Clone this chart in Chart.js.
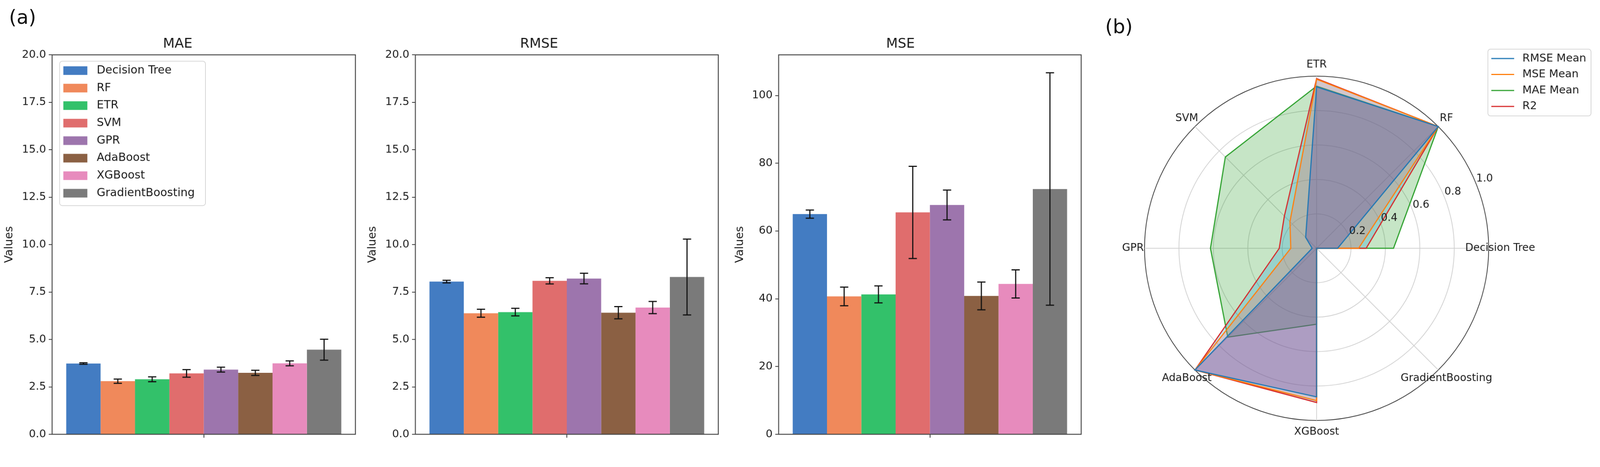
<!DOCTYPE html>
<html>
<head>
<meta charset="utf-8">
<script src="https://cdn.jsdelivr.net/npm/chart.js@4.4.1/dist/chart.umd.min.js"></script>
<style>
  html, body { margin: 0; padding: 0; background: #fff; overflow: hidden; }
  #page { position: absolute; left: 0; top: 0; width: 4268px; height: 1195px; transform-origin: 0 0; font-family: 'DejaVu Sans', sans-serif; }
  .panel { position: absolute; top: 0; height: 1195px; }
  .tag { position: absolute; font-size: 52px; line-height: 1; color: #111; }
</style>
</head>
<body>
<div id="page">
<div class="tag" style="left:24px;top:20px">(a)</div>
<div class="tag" style="left:2948px;top:45px">(b)</div>
<div class="panel" style="left:0;width:960px"><canvas id="maeChart"></canvas></div>
<div class="panel" style="left:960px;width:960px"><canvas id="rmseChart"></canvas></div>
<div class="panel" style="left:1920px;width:980px"><canvas id="mseChart"></canvas></div>
<div class="panel" style="left:2900px;width:1368px"><canvas id="radarChart"></canvas></div>
</div>
<script>
// models and bar colours
const models = ['Decision Tree', 'RF', 'ETR', 'SVM', 'GPR', 'AdaBoost', 'XGBoost', 'GradientBoosting'];
const modelColors = ['#437cc2', '#f0895b', '#33c16a', '#e06d6d', '#9d75ad', '#8b6043', '#e78bbd', '#7a7a7a'];

// panel (a): means and std errors
const maeMean = [3.73, 2.80, 2.90, 3.21, 3.41, 3.24, 3.74, 4.46];
const maeErr = [0.04, 0.11, 0.13, 0.20, 0.13, 0.135, 0.13, 0.55];
const rmseMean = [8.05, 6.38, 6.44, 8.09, 8.21, 6.41, 6.68, 8.29];
const rmseErr = [0.07, 0.21, 0.20, 0.165, 0.28, 0.32, 0.32, 2.0];
const mseMean = [65.0, 40.7, 41.3, 65.5, 67.7, 40.85, 44.4, 72.4];
const mseErr = [1.2, 2.75, 2.5, 13.6, 4.4, 4.1, 4.15, 34.3];

// panel (b): normalised scores, axes listed clockwise from the right
const radarAxes = ['Decision Tree', 'GradientBoosting', 'XGBoost', 'AdaBoost', 'GPR', 'SVM', 'ETR', 'RF'];
const radarRmse = [0.122, 0, 0.863, 1.0, 0.026, 0.09, 0.938, 1.0];
const radarMse = [0.244, 0, 0.885, 1.0, 0.15, 0.219, 0.982, 1.0];
const radarMae = [0.447, 0, 0.441, 0.73, 0.617, 0.75, 0.942, 1.0];
const radarR2 = [0.288, 0, 0.896, 1.0, 0.217, 0.265, 0.986, 1.0];
const radarTicks = [0.2, 0.4, 0.6, 0.8, 1.0];

const FONT = 'DejaVu Sans';
const TXT = '#1a1a1a';

// the layout is built for a 4268 px wide window; shrink it if the viewport is smaller
const fit = Math.min(window.innerWidth / 4268, window.innerHeight / 1195);
if (Math.abs(fit - 1) > 0.002) {
  document.getElementById('page').style.transform = 'scale(' + fit + ')';
}

const errorBars = {
  id: 'errorBars',
  afterDatasetsDraw(chart, args, opts) {
    const ctx = chart.ctx;
    const y = chart.scales.y;
    ctx.save();
    ctx.strokeStyle = '#111';
    ctx.lineWidth = 3;
    chart.data.datasets.forEach((ds, i) => {
      const bar = chart.getDatasetMeta(i).data[0];
      const m = ds.data[0], e = opts.errors[i];
      const top = y.getPixelForValue(m + e), bot = y.getPixelForValue(m - e);
      ctx.beginPath();
      ctx.moveTo(bar.x, top); ctx.lineTo(bar.x, bot);
      ctx.moveTo(bar.x - 11, top); ctx.lineTo(bar.x + 11, top);
      ctx.moveTo(bar.x - 11, bot); ctx.lineTo(bar.x + 11, bot);
      ctx.stroke();
    });
    ctx.restore();
  }
};

const frame = {
  id: 'frame',
  afterDraw(chart) {
    const {ctx, chartArea: a} = chart;
    ctx.save();
    ctx.strokeStyle = '#444';
    ctx.lineWidth = 2.5;
    ctx.strokeRect(a.left, a.top, a.right - a.left, a.bottom - a.top);
    ctx.restore();
  }
};

function roundBox(ctx, x, y, w, h) {
  ctx.beginPath();
  if (ctx.roundRect) ctx.roundRect(x, y, w, h, 7); else ctx.rect(x, y, w, h);
  ctx.fillStyle = 'rgba(255,255,255,0.8)';
  ctx.fill();
  ctx.strokeStyle = '#d6d6d6';
  ctx.lineWidth = 2;
  ctx.stroke();
}

// matplotlib style legend with colour patches
const boxLegend = {
  id: 'boxLegend',
  afterDraw(chart, args, opts) {
    if (!opts.show) return;
    const {ctx, chartArea: a} = chart;
    const x0 = a.left + 20, y0 = a.top + 17;
    ctx.save();
    roundBox(ctx, x0, y0, 389, 385);
    ctx.font = '30px ' + FONT;
    ctx.textBaseline = 'middle';
    chart.data.datasets.forEach((ds, i) => {
      const cy = y0 + 25 + i * 46.7;
      ctx.fillStyle = ds.backgroundColor;
      ctx.fillRect(x0 + 10, cy - 11.5, 64, 23);
      ctx.fillStyle = TXT;
      ctx.fillText(ds.label, x0 + 99, cy);
    });
    ctx.restore();
  }
};

function barPanel(id, title, means, errs, yMax, step, decimals, valuesPad, scaleWidth, rightPad, showLegend) {
  new Chart(document.getElementById(id), {
    type: 'bar',
    data: {
      labels: [''],
      datasets: models.map((m, i) => ({
        label: m,
        data: [means[i]],
        backgroundColor: modelColors[i],
        categoryPercentage: 0.907,
        barPercentage: 1.0
      }))
    },
    options: {
      responsive: true,
      maintainAspectRatio: false,
      animation: false,
      layout: { padding: { left: 0, right: rightPad, top: 0, bottom: 0 } },
      scales: {
        x: {
          grid: { display: true, drawOnChartArea: false, offset: false, tickLength: 9, color: '#333', lineWidth: 2 },
          border: { display: false },
          ticks: { display: true },
          afterFit(scale) { scale.height = 37; }
        },
        y: {
          min: 0,
          max: yMax,
          grid: { drawOnChartArea: false, tickLength: 9, color: '#333', lineWidth: 2 },
          border: { display: false },
          ticks: {
            stepSize: step,
            includeBounds: false,
            padding: 7,
            color: TXT,
            font: { family: FONT, size: 29 },
            callback: v => v.toFixed(decimals)
          },
          afterBuildTicks(scale) {
            scale.ticks = scale.ticks.filter(t => Math.abs(t.value / step - Math.round(t.value / step)) < 1e-6);
          },
          title: { display: true, text: 'Values', color: TXT, font: { family: FONT, size: 30 }, padding: { top: valuesPad, bottom: 0 } },
          afterFit(scale) { scale.width = scaleWidth; }
        }
      },
      plugins: {
        legend: { display: false },
        tooltip: { enabled: false },
        title: { display: true, text: title, color: TXT, font: { family: FONT, size: 36, weight: 'normal' }, padding: { top: 96, bottom: 7 } },
        errorBars: { errors: errs },
        boxLegend: { show: showLegend }
      }
    },
    plugins: [errorBars, frame, boxLegend]
  });
}

barPanel('maeChart', 'MAE', maeMean, maeErr, 20, 2.5, 1, 7, 139, 12, true);
barPanel('rmseChart', 'RMSE', rmseMean, rmseErr, 20, 2.5, 1, 16, 148, 4, false);
barPanel('mseChart', 'MSE', mseMean, mseErr, 112, 20, 0, 36, 157, 16, false);

// radar: axis names, radial tick labels and the legend
const radarText = {
  id: 'radarText',
  afterDraw(chart) {
    const {ctx} = chart;
    const r = chart.scales.r;
    ctx.save();
    ctx.fillStyle = TXT;
    ctx.font = '28px ' + FONT;
    ctx.textAlign = 'center';
    ctx.textBaseline = 'middle';
    radarAxes.forEach((name, i) => {
      const p = r.getPointPosition(i, r.drawingArea * 1.067);
      ctx.fillText(name, p.x, p.y);
    });
    const ang = 22.5 * Math.PI / 180;
    radarTicks.forEach(v => {
      const d = r.getDistanceFromCenterForValue(v) + 26;
      ctx.fillText(v.toFixed(1), r.xCenter + d * Math.cos(ang), r.yCenter - d * Math.sin(ang));
    });
    // legend
    const lx = chart.width - 299, ly = 131;
    roundBox(ctx, lx, ly, 275, 178);
    ctx.textAlign = 'left';
    ctx.font = '29px ' + FONT;
    chart.data.datasets.forEach((ds, i) => {
      const cy = ly + 25 + i * 42.6;
      ctx.strokeStyle = ds.borderColor;
      ctx.lineWidth = 3;
      ctx.beginPath();
      ctx.moveTo(lx + 9, cy); ctx.lineTo(lx + 70, cy);
      ctx.stroke();
      ctx.fillStyle = TXT;
      ctx.fillText(ds.label, lx + 92, cy);
    });
    ctx.restore();
  }
};

new Chart(document.getElementById('radarChart'), {
  type: 'radar',
  data: {
    labels: radarAxes,
    datasets: [
      { label: 'RMSE Mean', data: radarRmse, borderColor: '#1f77b4', backgroundColor: 'rgba(60,30,160,0.25)', fill: true, order: 1 },
      { label: 'MSE Mean', data: radarMse, borderColor: '#ff7f0e', backgroundColor: 'rgba(255,110,90,0.26)', fill: true, order: 2 },
      { label: 'MAE Mean', data: radarMae, borderColor: '#2ca02c', backgroundColor: 'rgba(44,160,44,0.27)', fill: true, order: 4 },
      { label: 'R2', data: radarR2, borderColor: '#d62728', backgroundColor: 'rgba(10,150,215,0.25)', fill: true, order: 3 }
    ]
  },
  options: {
    responsive: true,
    maintainAspectRatio: false,
    animation: false,
    layout: { padding: { left: 153, top: 203, right: 297, bottom: 74 } },
    elements: {
      line: { borderWidth: 3, tension: 0 },
      point: { radius: 0, hoverRadius: 0 }
    },
    scales: {
      r: {
        min: 0,
        max: 1,
        startAngle: 90,
        ticks: { display: false, stepSize: 0.2 },
        grid: {
          circular: true,
          lineWidth: 2,
          color: ctx => (ctx.tick && Math.abs(ctx.tick.value - 1) < 1e-6) ? '#3a3a3a' : '#d0d0d0'
        },
        angleLines: { color: '#d0d0d0', lineWidth: 2 },
        pointLabels: { display: false }
      }
    },
    plugins: {
      legend: { display: false },
      tooltip: { enabled: false }
    }
  },
  plugins: [radarText]
});
</script>
</body>
</html>
